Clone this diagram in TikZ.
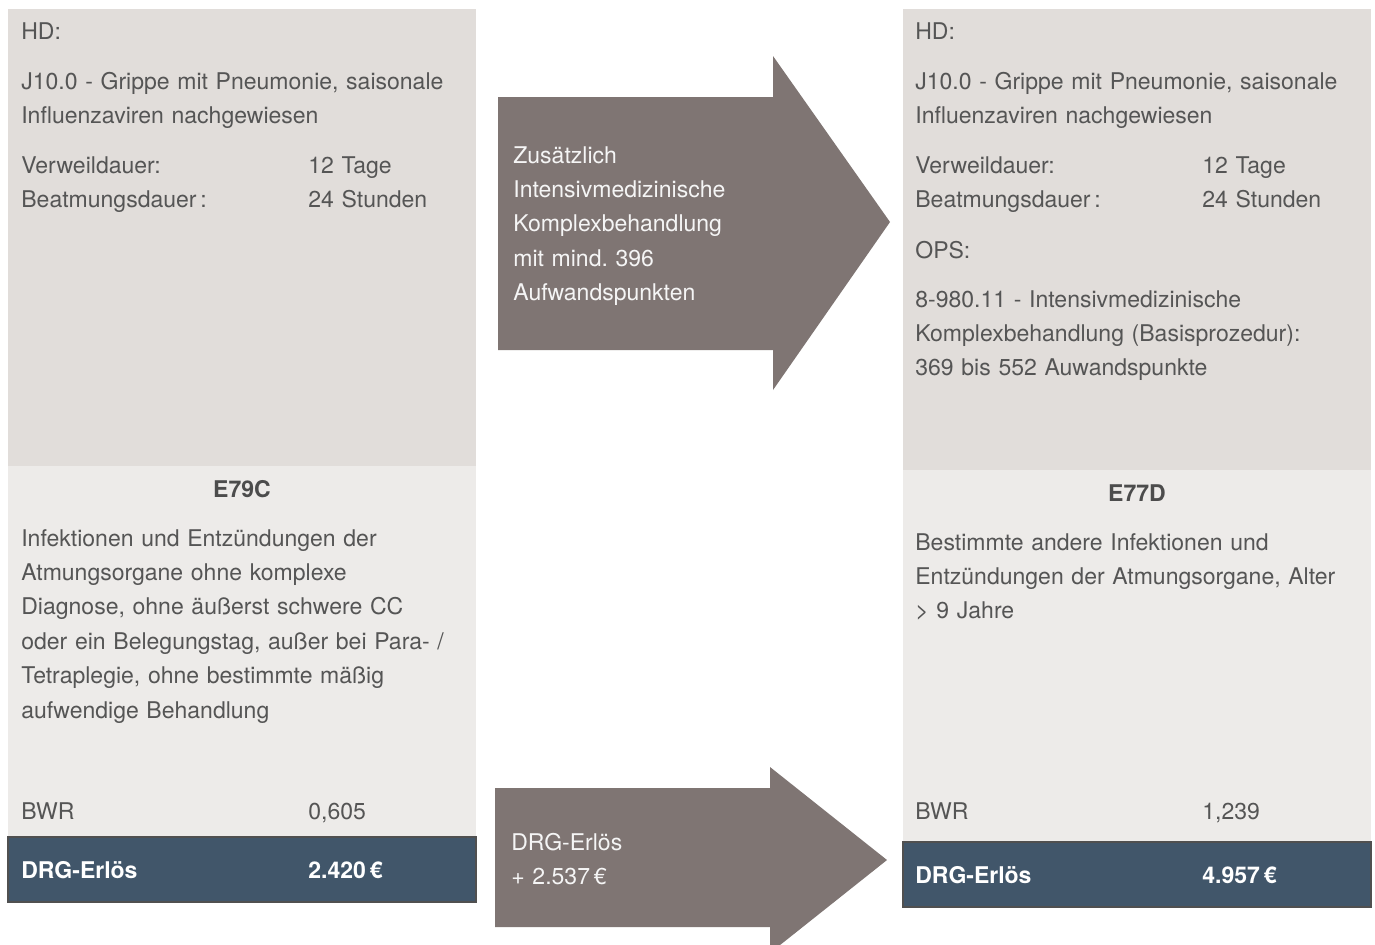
\documentclass[tikz,border=0pt]{standalone}
\usepackage{fontspec}
\setmainfont{TeX Gyre Heros}
\usepackage{xcolor}
\frenchspacing

\definecolor{topgray}{HTML}{E1DDDA}
\definecolor{lowgray}{HTML}{EDEBE9}
\definecolor{barblue}{HTML}{41566A}
\definecolor{bardark}{HTML}{505050}
\definecolor{arrowgray}{HTML}{7F7573}
\definecolor{textgray}{HTML}{555555}

\begin{document}
\begin{tikzpicture}[x=0.02cm, y=-0.02cm,
	txt/.style={anchor=base west, inner sep=0, text width=9cm, align=left,
		font=\fontsize{13.1}{19.6}\selectfont, text=textgray},
	code/.style={anchor=base, inner sep=0, font=\fontsize{13.1}{19.6}\selectfont\bfseries, text=textgray!90!black},
	bar/.style={anchor=base west, inner sep=0, font=\fontsize{13.1}{19.6}\selectfont\bfseries, text=white},
	arrowtxt/.style={txt, text=white!96!black}]
	\useasboundingbox (0,0) rectangle (1375,944);
	
	\fill [topgray] (8,9) rectangle (476,466);
	\fill [lowgray] (8,466) rectangle (476,837);
	\filldraw [fill=barblue, draw=bardark, line width=0.6pt] (8,837) rectangle (476,902);
	
	\fill [topgray] (903,9) rectangle (1371,470);
	\fill [lowgray] (903,470) rectangle (1371,842);
	\filldraw [fill=barblue, draw=bardark, line width=0.6pt] (903,842) rectangle (1371,907);
	
	\fill [arrowgray] (498,97) -- (773,97) -- (773,56) -- (890,222) -- (773,390) -- (773,350) -- (498,350) -- cycle;
	\fill [arrowgray] (495,788) -- (770,788) -- (770,767) -- (887,860) -- (770,953) -- (770,927) -- (495,927) -- cycle;
	
	% left case
	\node [txt] (hdL) at (21,39) {HD:};
	\node [txt] (diagL) at (21,89) {J10.0 - Grippe mit Pneumonie, saisonale\\Influenzaviren nachgewiesen};
	\node [txt] (dauerL) at (21,173) {Verweildauer:\\Beatmungsdauer\,:};
	\node [txt] (dauerLval) at (308,173) {12 Tage\\24 Stunden};
	\node [code] (drgL) at (242,497) {E79C};
	\node [txt] (descL) at (21,546) {Infektionen und Entzündungen der\\Atmungsorgane ohne komplexe\\Diagnose, ohne äußerst schwere CC\\oder ein Belegungstag, außer bei Para- /\\Tetraplegie, ohne bestimmte mäßig\\aufwendige Behandlung};
	\node [txt] (bwrL) at (21,819) {BWR};
	\node [txt] (bwrLval) at (308,819) {0,605};
	\node [bar] (erlL) at (21,878) {DRG-Erlös};
	\node [bar] (erlLval) at (308,878) {2.420\,€};
	
	% right case
	\node [txt] (hdR) at (915,39) {HD:};
	\node [txt] (diagR) at (915,89) {J10.0 - Grippe mit Pneumonie, saisonale\\Influenzaviren nachgewiesen};
	\node [txt] (dauerR) at (915,173) {Verweildauer:\\Beatmungsdauer\,:};
	\node [txt] (dauerRval) at (1202,173) {12 Tage\\24 Stunden};
	\node [txt] (opsR) at (915,258) {OPS:};
	\node [txt] (procR) at (915,307) {8-980.11 - Intensivmedizinische\\Komplexbehandlung (Basisprozedur):\\369 bis 552 Auwandspunkte};
	\node [code] (drgR) at (1137,501) {E77D};
	\node [txt] (descR) at (915,550) {Bestimmte andere Infektionen und\\Entzündungen der Atmungsorgane, Alter\\> 9 Jahre};
	\node [txt] (bwrR) at (915,819) {BWR};
	\node [txt] (bwrRval) at (1202,819) {1,239};
	\node [bar] (erlR) at (915,883) {DRG-Erlös};
	\node [bar] (erlRval) at (1202,883) {4.957\,€};
	
	% arrows
	\node [arrowtxt] (extra) at (513,163) {Zusätzlich\\Intensivmedizinische\\Komplexbehandlung\\mit mind. 396\\Aufwandspunkten};
	\node [arrowtxt] (plus) at (511,850) {DRG-Erlös\\+ 2.537\,€};
\end{tikzpicture}
\end{document}
